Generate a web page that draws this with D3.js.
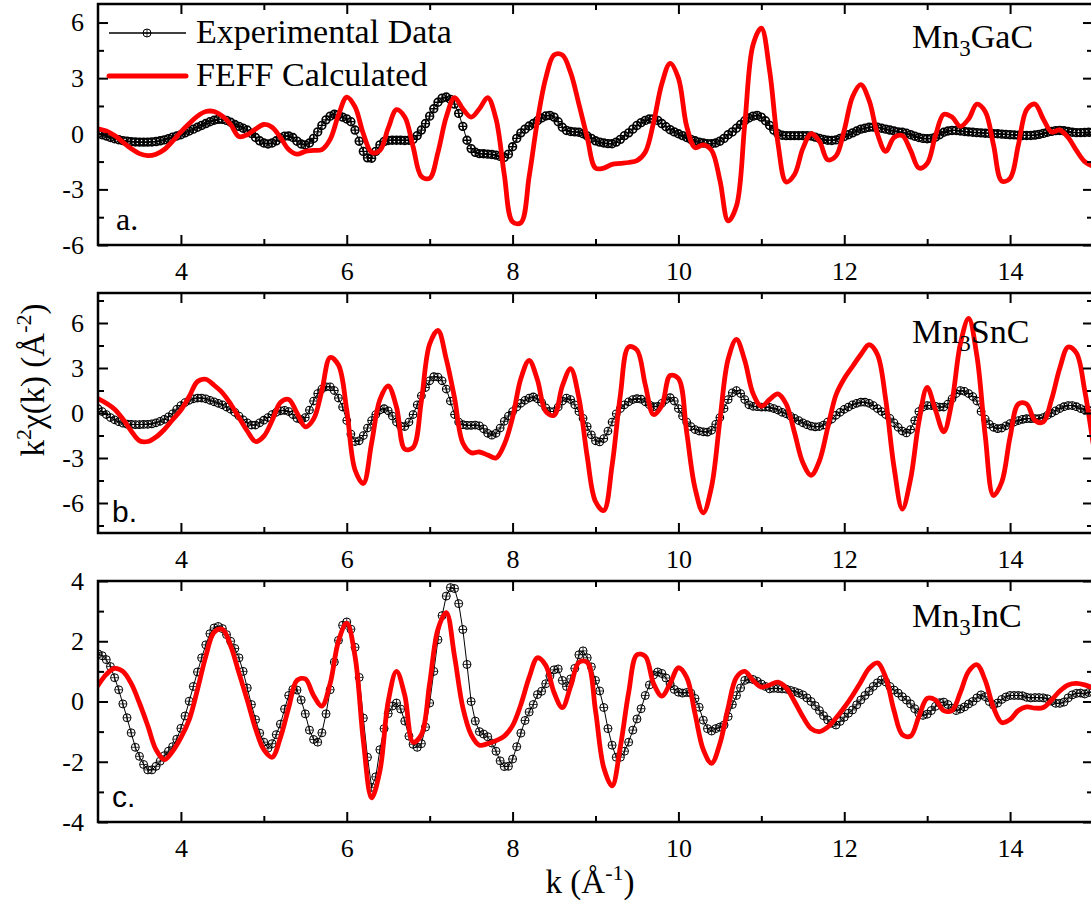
<!DOCTYPE html>
<html><head><meta charset="utf-8">
<script src="https://cdn.jsdelivr.net/npm/d3@7"></script>
<style>
html,body{margin:0;padding:0;background:#fff;}
svg{display:block;}
</style></head><body>
<svg id="chart" width="1091" height="905"></svg>
<script>
// ---------------- data ----------------
const K_START = 3, K_END = 15;
const EXP_STEP = 0.05, FEFF_STEP = 0.1;
const xMajorTicks = [4, 6, 8, 10, 12, 14];
const xMinorTicks = [5, 7, 9, 11, 13];

const yMajorA = [-6, -3, 0, 3, 6], yMinorA = [-4.5, -1.5, 1.5, 4.5];
const yMajorB = [-6, -3, 0, 3, 6], yMinorB = [-7.5, -4.5, -1.5, 1.5, 4.5, 7.5];
const yMajorC = [-4, -2, 0, 2, 4], yMinorC = [-3, -1, 1, 3];

const sampleNames = [["Mn", "3", "GaC"], ["Mn", "3", "SnC"], ["Mn", "3", "InC"]];
const panelLetters = ["a.", "b.", "c."];
const legendLabels = ["Experimental Data", "FEFF Calculated"];

// Experimental k^2 chi(k), k = 3.00 ... 15.00 step 0.05
const expA = [
 0.00,-0.05,-0.12,-0.20,-0.27,-0.32,-0.37,-0.40,-0.43,-0.44,-0.45,-0.45,-0.45,-0.44,-0.42,-0.38,-0.33,-0.26,-0.18,-0.12,
 -0.05,0.05,0.15,0.25,0.35,0.45,0.55,0.65,0.73,0.78,0.78,0.72,0.62,0.50,0.40,0.30,0.20,0.02,-0.20,-0.38,
 -0.50,-0.55,-0.50,-0.38,-0.22,-0.13,-0.12,-0.20,-0.40,-0.55,-0.60,-0.50,-0.25,0.10,0.45,0.75,0.95,1.05,1.02,0.90,
 0.80,0.65,0.20,-0.40,-0.95,-1.30,-1.32,-0.95,-0.60,-0.42,-0.36,-0.35,-0.35,-0.35,-0.36,-0.35,-0.30,-0.10,0.20,0.55,
 0.95,1.35,1.70,1.92,1.98,1.85,1.60,1.10,0.40,-0.35,-0.80,-1.00,-1.07,-1.08,-1.10,-1.12,-1.15,-1.22,-1.27,-1.10,
 -0.70,-0.25,0.05,0.25,0.42,0.55,0.70,0.85,0.96,0.99,0.90,0.65,0.35,0.18,0.12,0.10,0.08,0.00,-0.12,-0.25,
 -0.38,-0.45,-0.50,-0.53,-0.54,-0.45,-0.30,-0.10,0.05,0.25,0.45,0.60,0.72,0.80,0.80,0.72,0.55,0.38,0.22,0.10,
 0.00,-0.10,-0.20,-0.30,-0.38,-0.45,-0.50,-0.53,-0.54,-0.50,-0.40,-0.25,-0.05,0.10,0.30,0.50,0.70,0.85,0.95,0.99,
 0.90,0.70,0.45,0.20,0.00,-0.08,-0.10,-0.10,-0.10,-0.10,-0.10,-0.10,-0.12,-0.18,-0.25,-0.30,-0.35,-0.36,-0.33,-0.25,
 -0.15,-0.05,0.05,0.15,0.25,0.30,0.35,0.36,0.35,0.30,0.25,0.20,0.15,0.10,0.08,0.03,-0.05,-0.13,-0.20,-0.25,
 -0.27,-0.25,-0.18,-0.05,0.08,0.15,0.18,0.18,0.15,0.12,0.10,0.08,0.06,0.05,0.03,0.02,0.00,0.00,-0.02,-0.03,
 -0.05,-0.06,-0.08,-0.09,-0.09,-0.09,-0.07,-0.03,0.02,0.08,0.13,0.17,0.18,0.16,0.12,0.08,0.06,0.06,0.07,0.08,
 0.09];
const expB = [
 0.29,0.10,-0.10,-0.30,-0.45,-0.58,-0.68,-0.74,-0.76,-0.77,-0.77,-0.76,-0.75,-0.72,-0.65,-0.55,-0.42,-0.25,-0.05,0.25,
 0.50,0.70,0.85,0.95,1.00,1.00,0.95,0.85,0.75,0.65,0.55,0.40,0.25,0.05,-0.20,-0.45,-0.65,-0.80,-0.80,-0.65,
 -0.48,-0.30,-0.10,0.05,0.15,0.18,0.10,-0.10,-0.35,-0.44,-0.30,0.20,0.80,1.30,1.60,1.75,1.75,1.50,1.00,0.40,
 -0.50,-1.40,-1.90,-1.85,-1.50,-1.00,-0.50,-0.10,0.20,0.29,0.15,-0.20,-0.60,-0.88,-0.90,-0.60,-0.10,0.55,1.15,1.70,
 2.15,2.42,2.40,2.15,1.60,0.80,-0.10,-0.60,-0.78,-0.82,-0.82,-0.80,-0.85,-1.05,-1.35,-1.48,-1.35,-1.00,-0.55,-0.20,
 0.10,0.40,0.65,0.85,1.00,1.07,0.95,0.70,0.35,0.10,0.10,0.40,0.80,1.00,0.90,0.55,0.10,-0.35,-0.90,-1.45,
 -1.85,-1.93,-1.70,-1.20,-0.60,-0.05,0.30,0.55,0.75,0.90,0.96,0.92,0.75,0.55,0.42,0.45,0.65,0.90,1.02,0.80,
 0.30,-0.20,-0.60,-0.90,-1.10,-1.20,-1.25,-1.27,-1.15,-0.75,-0.30,0.30,0.90,1.35,1.50,1.30,0.90,0.55,0.45,0.42,
 0.40,0.40,0.38,0.30,0.20,0.05,-0.05,-0.20,-0.35,-0.50,-0.65,-0.78,-0.87,-0.92,-0.90,-0.80,-0.60,-0.40,-0.15,0.05,
 0.25,0.40,0.55,0.65,0.72,0.72,0.65,0.50,0.30,0.10,-0.10,-0.35,-0.65,-0.95,-1.20,-1.33,-1.10,-0.50,0.10,0.40,
 0.50,0.50,0.45,0.40,0.40,0.60,0.95,1.30,1.50,1.45,1.30,1.10,0.80,0.10,-0.40,-0.75,-0.95,-1.04,-1.00,-0.85,
 -0.70,-0.60,-0.50,-0.42,-0.38,-0.37,-0.38,-0.38,-0.30,-0.15,0.00,0.15,0.30,0.42,0.50,0.50,0.42,0.30,0.20,0.18,
 0.18];
const expC = [
 1.58,1.52,1.39,1.16,0.79,0.39,-0.08,-0.54,-1.04,-1.52,-1.82,-2.09,-2.27,-2.27,-2.15,-1.98,-1.80,-1.65,-1.50,-1.25,
 -0.89,-0.48,0.01,0.50,0.98,1.45,1.88,2.25,2.44,2.49,2.42,2.22,2.00,1.76,1.45,1.00,0.45,-0.10,-0.60,-1.05,
 -1.35,-1.55,-1.40,-1.10,-0.75,-0.25,0.20,0.40,0.38,0.05,-0.41,-0.95,-1.26,-1.35,-1.04,-0.41,0.39,1.31,2.03,2.53,
 2.64,2.40,1.80,0.80,-0.55,-1.85,-2.85,-2.50,-1.60,-0.90,-0.40,-0.15,-0.05,-0.25,-0.65,-1.15,-1.42,-1.52,-1.40,-0.85,
 -0.05,1.00,2.05,2.85,3.50,3.78,3.75,3.25,2.39,1.23,0.00,-0.65,-1.00,-1.08,-1.17,-1.38,-1.65,-1.97,-2.16,-2.15,
 -1.91,-1.50,-1.05,-0.63,-0.35,-0.10,0.23,0.34,0.59,0.85,1.05,1.08,0.70,0.50,0.75,1.10,1.55,1.68,1.45,1.15,
 0.70,0.35,-0.20,-0.90,-1.45,-1.85,-1.85,-1.65,-1.35,-0.95,-0.58,-0.24,0.20,0.55,0.88,0.98,0.93,0.78,0.58,0.40,
 0.31,0.28,0.30,0.28,0.10,-0.19,-0.62,-0.90,-0.98,-0.90,-0.85,-0.78,-0.50,-0.10,0.20,0.45,0.70,0.75,0.73,0.67,
 0.58,0.50,0.42,0.44,0.43,0.42,0.41,0.37,0.33,0.28,0.22,0.12,0.00,-0.14,-0.30,-0.47,-0.61,-0.72,-0.78,-0.66,
 -0.52,-0.39,-0.28,-0.11,0.05,0.20,0.34,0.50,0.62,0.72,0.65,0.50,0.38,0.28,0.16,0.05,-0.08,-0.24,-0.39,-0.46,
 -0.42,-0.30,-0.16,-0.04,-0.02,-0.10,-0.22,-0.30,-0.25,-0.18,-0.08,0.00,0.12,0.22,0.16,0.00,-0.12,-0.05,0.07,0.15,
 0.20,0.20,0.20,0.19,0.14,0.12,0.13,0.13,0.12,0.09,0.01,-0.06,-0.06,-0.02,0.12,0.22,0.27,0.28,0.25,0.30,
 0.32];

// FEFF calculated, k = 3.0 ... 15.0 step 0.1
const feffA = [
 0.27,0.15,-0.10,-0.45,-0.80,-1.07,-1.18,-1.10,-0.85,-0.40,
 0.10,0.55,0.95,1.20,1.20,0.95,0.50,-0.15,-0.05,0.25,
 0.50,0.35,-0.20,-0.85,-1.10,-0.95,-0.90,-0.85,-0.30,1.00,
 1.98,1.45,0.00,-1.00,-0.90,0.30,1.30,0.90,-0.70,-2.30,
 -2.40,-1.00,0.90,1.95,1.35,0.90,1.35,1.95,0.80,-2.20,
 -4.75,-4.80,-2.30,0.70,3.00,4.25,4.25,3.30,1.60,-0.20,
 -1.85,-1.85,-1.65,-1.60,-1.55,-1.45,-1.00,0.60,2.70,3.80,
 3.00,0.40,-0.75,-0.60,-0.90,-2.50,-4.70,-3.90,0.50,4.80,
 5.70,3.40,-0.50,-2.60,-2.20,-0.80,0.00,-0.40,-1.40,-1.20,
 0.20,2.00,2.65,1.80,0.00,-0.95,-0.20,-0.10,-0.90,-1.85,
 -1.60,-0.10,1.05,0.90,0.40,0.80,1.60,1.20,-0.60,-2.55,
 -2.40,-0.60,1.30,1.60,0.80,0.10,0.20,-0.20,-0.90,-1.50,
 -1.75];
const feffB = [
 0.96,0.65,0.25,-0.40,-1.20,-1.85,-1.90,-1.60,-1.10,-0.45,
 0.20,1.10,2.10,2.25,1.85,1.35,0.60,-0.30,-1.20,-1.90,
 -1.55,-0.50,0.70,0.90,0.00,-0.92,-0.40,1.50,3.70,3.20,
 0.20,-3.80,-4.70,-2.00,0.90,1.80,0.40,-2.40,-2.30,0.80,
 4.60,5.50,3.60,1.00,-2.00,-2.65,-2.60,-2.80,-3.00,-2.10,
 -0.30,2.30,3.50,2.20,0.10,-0.15,1.80,2.95,1.00,-2.90,
 -5.90,-6.50,-3.50,1.20,4.40,4.20,1.90,-0.10,0.50,2.50,
 2.30,-1.30,-5.00,-6.65,-4.90,-0.50,3.60,4.90,3.50,1.30,
 0.45,0.90,1.28,0.60,-1.30,-3.30,-4.15,-3.20,-1.00,1.20,
 2.30,3.10,3.90,4.55,3.90,0.90,-3.60,-6.40,-4.40,-0.60,
 1.70,0.20,-1.25,0.80,4.60,6.30,3.80,-1.50,-5.50,-4.60,
 -1.60,0.60,0.60,-0.50,-0.60,0.90,3.00,4.40,4.00,1.50,
 -2.00];
const feffC = [
 0.53,0.90,1.10,1.00,0.60,-0.05,-0.80,-1.60,-1.93,-1.65,
 -1.20,-0.60,0.40,1.50,2.30,2.40,1.85,0.95,0.05,-0.90,
 -1.60,-1.85,-1.20,-0.20,0.70,0.75,0.20,-0.15,0.60,2.00,
 2.60,1.50,-1.30,-3.20,-2.30,0.00,1.00,0.20,-1.35,-1.10,
 0.60,2.40,2.95,1.50,-0.20,-1.10,-1.45,-1.40,-1.30,-1.15,
 -0.80,-0.10,0.80,1.45,1.20,0.30,-0.20,0.50,1.30,1.30,
 -0.30,-2.20,-2.80,-1.50,0.30,1.55,1.50,0.60,0.18,0.60,
 1.12,0.80,-0.40,-1.60,-2.05,-1.40,-0.20,0.80,1.00,0.70,
 0.48,0.55,0.64,0.45,0.00,-0.50,-0.90,-1.00,-0.85,-0.55,
 -0.20,0.20,0.65,1.10,1.28,0.80,-0.30,-1.10,-1.15,-0.50,
 0.10,0.05,-0.30,-0.30,0.30,1.00,1.22,0.70,-0.20,-0.70,
 -0.60,-0.30,-0.18,-0.22,-0.20,0.05,0.35,0.55,0.60,0.55,
 0.45];

// ---------------- layout / style ----------------
const SERIF = "'Liberation Serif','Times New Roman',serif";
const SANS = "'Liberation Sans',Arial,sans-serif";
const RED = "#ff0000";
const panels = [
  {top: 4,   bottom: 245, yDomain: [-6, 7], yMajor: yMajorA, yMinor: yMinorA, exp: expA, feff: feffA, r: 3.9, sw: 1.6,
   name: sampleNames[0], nameY: 48, letter: panelLetters[0], letterFont: SERIF, letterX: 116, letterY: 230},
  {top: 293, bottom: 533, yDomain: [-8, 8], yMajor: yMajorB, yMinor: yMinorB, exp: expB, feff: feffB, r: 3.8, sw: 1.15,
   name: sampleNames[1], nameY: 343, letter: panelLetters[1], letterFont: SANS, letterX: 112, letterY: 522},
  {top: 581, bottom: 822, yDomain: [-4, 4], yMajor: yMajorC, yMinor: yMinorC, exp: expC, feff: feffC, r: 4.0, sw: 1,
   name: sampleNames[2], nameY: 627, letter: panelLetters[2], letterFont: SANS, letterX: 112, letterY: 807}
];

const svg = d3.select("#chart");
const defs = svg.append("defs");
const x = d3.scaleLinear().domain([K_START, K_END]).range([98, 1093]);

function styleAxis(g, size) {
  g.select(".domain").remove();
  g.attr("font-family", SERIF).attr("font-size", size);
  g.selectAll(".tick line").attr("stroke", "#000").attr("stroke-width", 2);
  g.selectAll(".tick text").attr("fill", "#000");
}

function marker(sel, r, sw) {
  sel.append("circle").attr("r", r).attr("fill", "none").attr("stroke", "#000").attr("stroke-width", sw);
  sel.append("path").attr("d", `M${-r},0H${r}M0,${-r}V${r}`).attr("stroke", "#000").attr("stroke-width", sw * 0.8);
}

panels.forEach((p, i) => {
  const y = d3.scaleLinear().domain(p.yDomain).range([p.bottom, p.top]);
  const g = svg.append("g");
  defs.append("clipPath").attr("id", "clip" + i).append("rect")
    .attr("x", x(K_START)).attr("y", p.top)
    .attr("width", x(K_END) - x(K_START)).attr("height", p.bottom - p.top);
  const plot = g.append("g").attr("clip-path", `url(#clip${i})`);

  const expPts = p.exp.map((v, j) => [K_START + j * EXP_STEP, v]);
  const feffPts = p.feff.map((v, j) => [K_START + j * FEFF_STEP, v]);

  plot.append("path").datum(expPts)
    .attr("d", d3.line().x(d => x(d[0])).y(d => y(d[1])))
    .attr("fill", "none").attr("stroke", "#000").attr("stroke-width", 1);
  plot.selectAll("g.mk").data(expPts).join("g").attr("class", "mk")
    .attr("transform", d => `translate(${x(d[0])},${y(d[1])})`)
    .call(s => marker(s, p.r, p.sw));

  plot.append("path").datum(feffPts)
    .attr("d", d3.line().curve(d3.curveCatmullRom.alpha(0.5)).x(d => x(d[0])).y(d => y(d[1])))
    .attr("fill", "none").attr("stroke", RED).attr("stroke-width", 4.8)
    .attr("stroke-linejoin", "round").attr("stroke-linecap", "round");

  // axes (ticks inward)
  g.append("g").attr("transform", `translate(${x(K_START)},0)`)
    .call(d3.axisLeft(y).tickValues(p.yMajor).tickSize(-10).tickPadding(14).tickFormat(d => String(d)))
    .call(a => styleAxis(a, 26));
  g.append("g").attr("transform", `translate(${x(K_START)},0)`)
    .call(d3.axisLeft(y).tickValues(p.yMinor).tickSize(-6).tickFormat(""))
    .call(a => styleAxis(a, 26));
  g.append("g").attr("transform", `translate(${x(K_END)},0)`)
    .call(d3.axisRight(y).tickValues(p.yMajor).tickSize(-10).tickFormat(""))
    .call(a => styleAxis(a, 26));
  g.append("g").attr("transform", `translate(${x(K_END)},0)`)
    .call(d3.axisRight(y).tickValues(p.yMinor).tickSize(-6).tickFormat(""))
    .call(a => styleAxis(a, 26));
  g.append("g").attr("transform", `translate(0,${p.bottom})`)
    .call(d3.axisBottom(x).tickValues(xMajorTicks).tickSize(-10).tickPadding(17).tickFormat(d => String(d)))
    .call(a => styleAxis(a, 26));
  g.append("g").attr("transform", `translate(0,${p.bottom})`)
    .call(d3.axisBottom(x).tickValues(xMinorTicks).tickSize(-6).tickFormat(""))
    .call(a => styleAxis(a, 26));
  g.append("g").attr("transform", `translate(0,${p.top})`)
    .call(d3.axisTop(x).tickValues(xMajorTicks).tickSize(-10).tickFormat(""))
    .call(a => styleAxis(a, 26));
  g.append("g").attr("transform", `translate(0,${p.top})`)
    .call(d3.axisTop(x).tickValues(xMinorTicks).tickSize(-6).tickFormat(""))
    .call(a => styleAxis(a, 26));

  g.append("rect").attr("x", x(K_START)).attr("y", p.top)
    .attr("width", x(K_END) - x(K_START)).attr("height", p.bottom - p.top)
    .attr("fill", "none").attr("stroke", "#000").attr("stroke-width", 2.5);

  // sample name
  const t = g.append("text").attr("x", 912).attr("y", p.nameY)
    .attr("font-family", SERIF).attr("font-size", 34).attr("fill", "#000");
  t.append("tspan").text(p.name[0]);
  t.append("tspan").attr("dy", 8).attr("font-size", 23).text(p.name[1]);
  t.append("tspan").attr("dy", -8).text(p.name[2]);

  g.append("text").attr("x", p.letterX).attr("y", p.letterY)
    .attr("font-family", p.letterFont).attr("font-size", i === 0 ? 32 : 30).attr("fill", "#000")
    .text(p.letter);
});

// legend (panel a)
const lg = svg.append("g");
lg.append("line").attr("x1", 109).attr("x2", 186).attr("y1", 33).attr("y2", 33)
  .attr("stroke", "#000").attr("stroke-width", 1.5);
lg.append("g").attr("transform", "translate(147,33)").call(s => marker(s, 4, 1));
lg.append("line").attr("x1", 109).attr("x2", 186).attr("y1", 76).attr("y2", 76)
  .attr("stroke", RED).attr("stroke-width", 5).attr("stroke-linecap", "round");
lg.append("text").attr("x", 196).attr("y", 43).attr("font-family", SERIF).attr("font-size", 34).text(legendLabels[0]);
lg.append("text").attr("x", 196).attr("y", 86).attr("font-family", SERIF).attr("font-size", 34).text(legendLabels[1]);

// axis titles
const xt = svg.append("text").attr("x", 590).attr("y", 893).attr("text-anchor", "middle")
  .attr("font-family", SERIF).attr("font-size", 33);
xt.append("tspan").text("k (Å");
xt.append("tspan").attr("dy", -13).attr("font-size", 22).text("-1");
xt.append("tspan").attr("dy", 13).text(")");

const yt = svg.append("text").attr("transform", "translate(44,380) rotate(-90)").attr("text-anchor", "middle")
  .attr("font-family", SERIF).attr("font-size", 33);
yt.append("tspan").text("k");
yt.append("tspan").attr("dy", -13).attr("font-size", 22).text("2");
yt.append("tspan").attr("dy", 13).text("χ(k) (Å");
yt.append("tspan").attr("dy", -13).attr("font-size", 22).text("-2");
yt.append("tspan").attr("dy", 13).text(")");
</script>
</body></html>
